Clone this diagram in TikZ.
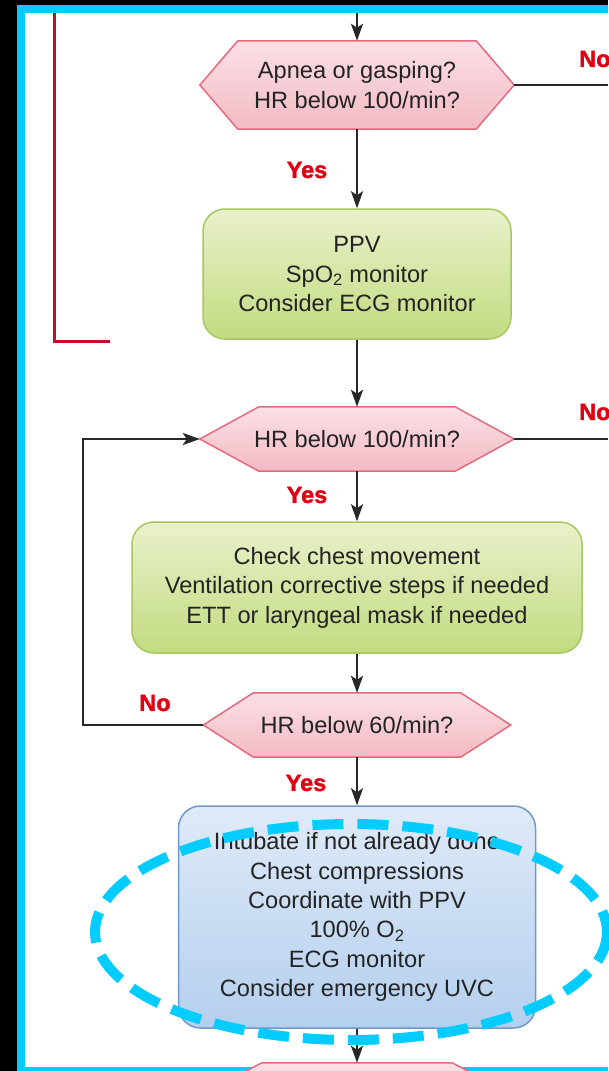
\documentclass[tikz,border=0pt]{standalone}
\usepackage{fontspec}
\setmainfont{Liberation Sans}
\newfontfamily\heavylabel[FakeBold=1.6]{Liberation Sans Bold}
\usetikzlibrary{arrows.meta,calc}
\definecolor{frameCyan}{RGB}{0,204,255}
\definecolor{redMark}{RGB}{196,14,44}
\definecolor{hexTop}{RGB}{251,224,229}
\definecolor{hexBot}{RGB}{243,186,196}
\definecolor{hexLine}{RGB}{226,108,126}
\definecolor{greenTop}{RGB}{233,241,203}
\definecolor{greenBot}{RGB}{194,219,128}
\definecolor{greenLine}{RGB}{165,200,96}
\definecolor{blueTop}{RGB}{223,234,248}
\definecolor{blueBot}{RGB}{180,207,238}
\definecolor{blueLine}{RGB}{112,152,202}
\definecolor{txt}{RGB}{35,35,35}
\definecolor{connCol}{RGB}{40,40,40}
\definecolor{labelRed}{RGB}{225,0,18}
\pgfdeclarelayer{bg}
\pgfsetlayers{bg,main}
\newcommand\drawhex[2]{%
  \path[hexfill] (#1.west) -- ([xshift=#2pt]#1.north west) -- ([xshift=-#2pt]#1.north east)
    -- (#1.east) -- ([xshift=-#2pt]#1.south east) -- ([xshift=#2pt]#1.south west) -- cycle;}
\begin{document}
\begin{tikzpicture}[x=1pt,y=-1pt,
  bodytext/.style={font=\fontsize{23.6}{29.4}\selectfont, text=txt, align=center, inner sep=0pt},
  hexnode/.style={bodytext},
  hexfill/.style={top color=hexTop, bottom color=hexBot, draw=hexLine, line width=1.5pt, line join=miter},
  greenbox/.style={bodytext, rounded corners=22pt, draw=greenLine, line width=1.5pt, top color=greenTop, bottom color=greenBot},
  bluebox/.style={bodytext, rounded corners=22pt, draw=blueLine, line width=1.5pt, top color=blueTop, bottom color=blueBot},
  yesno/.style={font=\fontsize{23.5}{26}\heavylabel, text=labelRed, inner sep=0pt},
  conn/.style={draw=connCol, line width=2.6pt, -{Stealth[length=17pt,width=12pt,inset=4pt]}},
  plainconn/.style={draw=connCol, line width=2.6pt},
  redline/.style={draw=redMark, line width=3pt},
  dashring/.style={draw=frameCyan, line width=10pt, dash pattern=on 31pt off 14pt}]
\useasboundingbox (0,0) rectangle (608,1071);
\begin{pgfonlayer}{bg}
  \fill[black] (0,0) rectangle (608,1071);
  \fill[frameCyan] (17,5) rectangle (608,1071);
  \fill[white] (25,13) rectangle (608,1067);
\end{pgfonlayer}

% red bracket
\coordinate (r0) at (54,13);
\coordinate (r1) at (54,341);
\coordinate (r2) at (110,341);
\draw[redline] (r0) -- (r1) -- (r2);

% nodes
\node[hexnode, minimum width=314, minimum height=88] (q1) at (357,85) {Apnea or gasping?\\HR below 100/min?};
\node[greenbox, minimum width=308, minimum height=130] (b1) at (357,274) {PPV\\SpO\textsubscript{2} monitor\\Consider ECG monitor};
\node[hexnode, minimum width=314, minimum height=64] (q2) at (357,439) {HR below 100/min?};
\node[greenbox, minimum width=450, minimum height=131] (b2) at (357,587.5) {Check chest movement\\Ventilation corrective steps if needed\\ETT or laryngeal mask if needed};
\node[hexnode, minimum width=307, minimum height=64] (q3) at (357,725) {HR below 60/min?};
\node[bluebox, minimum width=357, minimum height=222] (b3) at (357,917) {Intubate if not already done\\Chest compressions\\Coordinate with PPV\\100\% O\textsubscript{2}\\ECG monitor\\Consider emergency UVC};
\node[hexnode, minimum width=314, minimum height=64] (q4) at (357,1095) {};

\begin{pgfonlayer}{bg}
  \drawhex{q1}{38}
  \drawhex{q2}{59}
  \drawhex{q3}{50}
  \drawhex{q4}{62}
\end{pgfonlayer}

% labels
\node[yesno] (y1) at (307,170) {Yes};
\node[yesno, anchor=west] (n1) at (579,59) {No};
\node[yesno, anchor=west] (n2) at (579,412) {No};
\node[yesno] (y2) at (307,495) {Yes};
\node[yesno] (n3) at (155,703) {No};
\node[yesno] (y3) at (306,783) {Yes};

% connectors
\coordinate (top) at (357,13);
\coordinate (e1) at (608,85);
\coordinate (e2) at (608,439);
\coordinate (loop) at (83,439);
\draw[conn] (top) -- (q1.north);
\draw[plainconn] (q1.east) -- (e1);
\draw[conn] (q1.south) -- (b1.north);
\draw[conn] (b1.south) -- (q2.north);
\draw[plainconn] (q2.east) -- (e2);
\draw[conn] (q2.south) -- (b2.north);
\draw[conn] (b2.south) -- (q3.north);
\draw[conn] (q3.west) -| (loop) -- (q2.west);
\draw[conn] (q3.south) -- (b3.north);
\draw[conn] (b3.south) -- (q4.north);

% dashed highlight
\draw[dashring] (351,932) ellipse [x radius=256, y radius=108];
\end{tikzpicture}
\end{document}
